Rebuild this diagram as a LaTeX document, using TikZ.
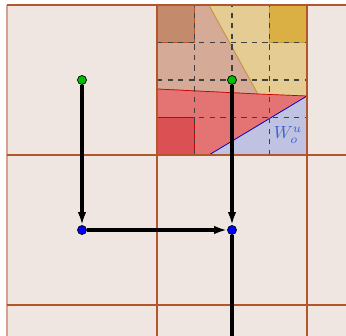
\documentclass[tikz,border=0pt]{standalone}
\usepackage{amsmath,amssymb}
\usepackage{xcolor}
\usepackage{tikz}
\usetikzlibrary{arrows.meta}
\definecolor{bgcell}{HTML}{EFE6E1}
\definecolor{gridc}{HTML}{B2562E}
\definecolor{tanreg}{HTML}{D5AA97}
\definecolor{yelreg}{HTML}{E4CC92}
\definecolor{redreg}{HTML}{E47374}
\definecolor{blureg}{HTML}{BFC2E0}
\definecolor{tansq}{HTML}{C48A6C}
\definecolor{yelsq}{HTML}{DAB045}
\definecolor{redsq}{HTML}{DA5053}
\definecolor{labc}{HTML}{3D5FD0}

\begin{document}
\begin{tikzpicture}[
  pt/.style={circle,draw=black,line width=0.4pt,minimum size=1.8mm,inner sep=0pt},
  src/.style={pt,fill=green!75!black},
  dst/.style={pt,fill=blue},
  flow/.style={->,line width=1.8pt},
  gline/.style={gridc,line width=0.7pt},
  >={Latex[length=2.6mm,width=1.7mm]}]
  \useasboundingbox (-3.14,-3.62) rectangle (3.78,3.1);
  \fill[bgcell] (-3,-3.62) rectangle (3.78,3);
  % regions in the upper right cell
  \filldraw[fill=tanreg,draw=gridc] (0,3) -- (1.04,3) -- (2.02,1.22) -- (0,1.32) -- cycle;
  \filldraw[fill=yelreg,draw=yelsq!90!black] (1.04,3) -- (3,3) -- (3,1.18) -- (2.02,1.22) -- cycle;
  \filldraw[fill=redreg,draw=red!80!black] (0,1.32) -- (2.02,1.22) -- (3,1.18) -- (1.04,0) -- (0,0) -- cycle;
  \filldraw[fill=blureg,draw=blue!80!black] (1.04,0) -- (3,1.18) -- (3,0) -- cycle;
  \filldraw[fill=tansq,draw=gridc] (0,2.25) rectangle (0.75,3);
  \filldraw[fill=yelsq,draw=yelsq!90!black] (2.25,2.25) rectangle (3,3);
  \filldraw[fill=redsq,draw=red!80!black] (0,0) rectangle (0.75,0.75);
  \foreach \t in {0.75,1.5,2.25} {
    \draw[dashed,black!75,line width=0.6pt] (\t,0) -- (\t,3);
    \draw[dashed,black!75,line width=0.6pt] (0,\t) -- (3,\t);
  }
  \node[text=labc] (wlab) at (2.62,0.4) {$W_o^u$};
  % grid
  \draw[gridc!55,line width=1pt] (-3,-3.62) -- (-3,3);
  \foreach \x in {0,3} \draw[gline] (\x,-3.62) -- (\x,3);
  \foreach \y in {-3,0} \draw[gline] (-3,\y) -- (3.78,\y);
  \draw[gline] (-3,3) -- (3.78,3);
  % flow
  \node[src] (a1) at (-1.5,1.5) {};
  \node[src] (a2) at (1.5,1.5) {};
  \node[dst] (b1) at (-1.5,-1.5) {};
  \node[dst] (b2) at (1.5,-1.5) {};
  \coordinate (out) at (1.5,-3.62);
  \draw[flow] (a1) -- (b1);
  \draw[flow] (a2) -- (b2);
  \draw[flow] (b1) -- (b2);
  \draw[line width=1.8pt] (b2) -- (out);
\end{tikzpicture}
\end{document}
